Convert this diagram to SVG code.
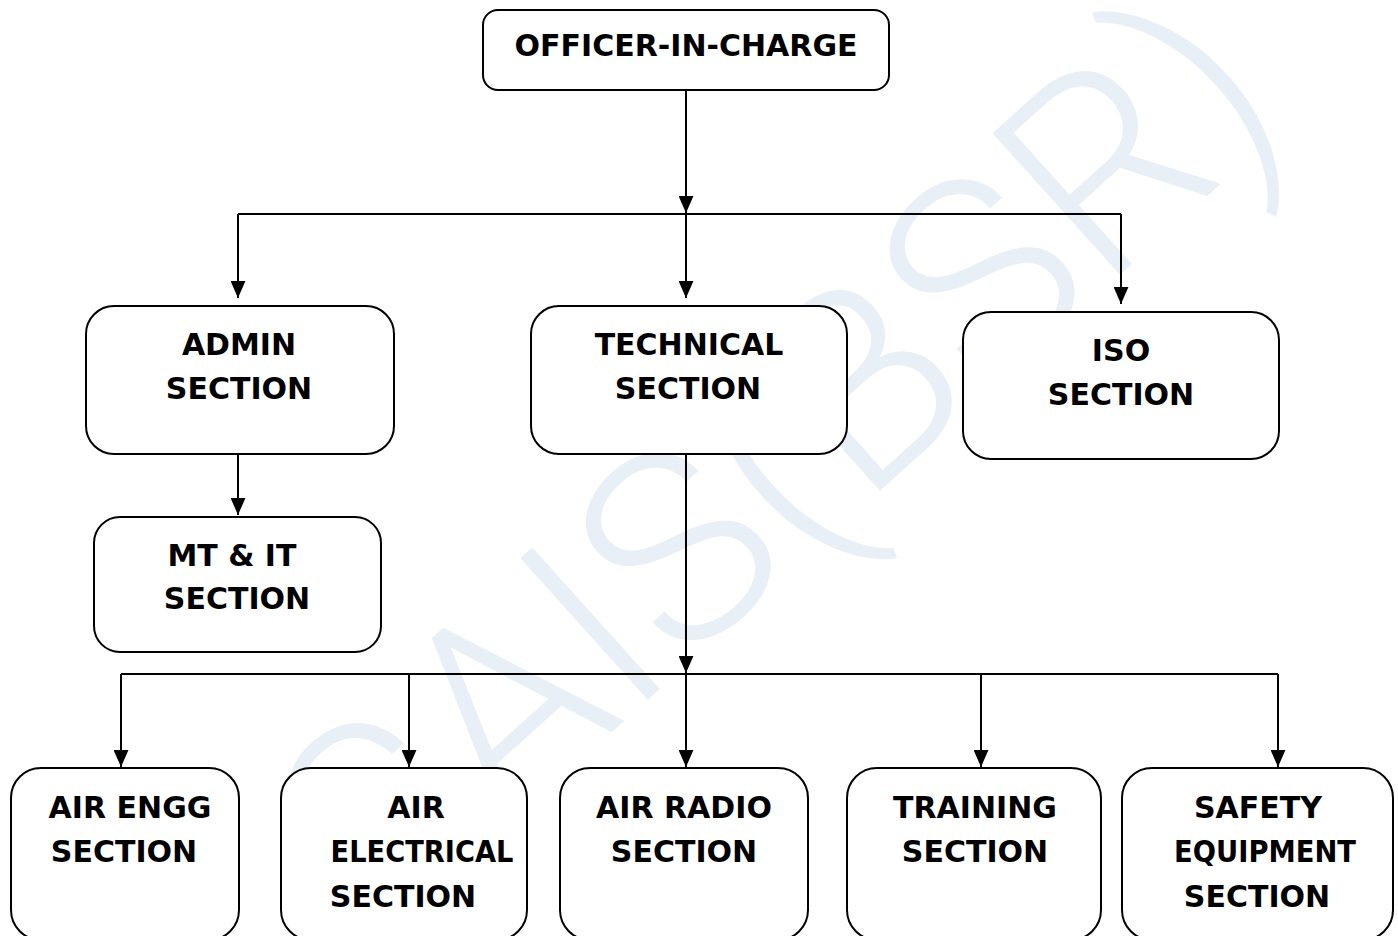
<svg xmlns="http://www.w3.org/2000/svg" width="1398" height="936" viewBox="0 0 1398 936">
  <style>
    .box { fill: #ffffff; stroke: #000000; stroke-width: 2; }
    .lbl { font-family: "DejaVu Sans", Verdana, sans-serif; font-weight: bold; font-size: 30px; fill: #000000; text-anchor: middle; }
    .wire { fill: none; stroke: #000000; stroke-width: 2; }
    .mark { font-family: Roboto, "Open Sans", sans-serif; font-weight: 300; font-size: 268px; fill: #e9eff7; text-anchor: middle; }
  </style>
  <defs>
    <marker id="arrow" viewBox="0 0 16 14" refX="16" refY="7" markerWidth="17" markerHeight="15" markerUnits="userSpaceOnUse" orient="auto">
      <path d="M0,0 L16,7 L0,14 Z" fill="#000000"/>
    </marker>
  </defs>

  <rect width="1398" height="936" fill="#ffffff"/>

  <!-- background watermark -->
  <g id="watermark" transform="translate(770,462) rotate(-42)">
    <text class="mark" x="0" y="95">CAIS(BSR)</text>
  </g>

  <!-- connectors -->
  <g id="connectors">
    <line class="wire" x1="686" y1="90" x2="686" y2="213" marker-end="url(#arrow)"/>
    <line class="wire" x1="238" y1="214" x2="1121" y2="214"/>
    <line class="wire" x1="238" y1="214" x2="238" y2="298" marker-end="url(#arrow)"/>
    <line class="wire" x1="686" y1="214" x2="686" y2="298" marker-end="url(#arrow)"/>
    <line class="wire" x1="1121" y1="214" x2="1121" y2="304" marker-end="url(#arrow)"/>
    <line class="wire" x1="238" y1="454" x2="238" y2="515" marker-end="url(#arrow)"/>
    <line class="wire" x1="686" y1="454" x2="686" y2="673" marker-end="url(#arrow)"/>
    <line class="wire" x1="121" y1="674" x2="1278" y2="674"/>
    <line class="wire" x1="121" y1="674" x2="121" y2="767" marker-end="url(#arrow)"/>
    <line class="wire" x1="409" y1="674" x2="409" y2="767" marker-end="url(#arrow)"/>
    <line class="wire" x1="686" y1="674" x2="686" y2="767" marker-end="url(#arrow)"/>
    <line class="wire" x1="981" y1="674" x2="981" y2="767" marker-end="url(#arrow)"/>
    <line class="wire" x1="1278" y1="674" x2="1278" y2="767" marker-end="url(#arrow)"/>
  </g>

  <g id="officer-in-charge">
    <rect class="box" x="483" y="10" width="406" height="80" rx="15"/>
    <text class="lbl" x="686" y="56">OFFICER-IN-CHARGE</text>
  </g>

  <g id="admin-section">
    <rect class="box" x="86" y="306" width="308" height="148" rx="28"/>
    <text class="lbl" x="239" y="355">ADMIN</text>
    <text class="lbl" x="239" y="399">SECTION</text>
  </g>

  <g id="technical-section">
    <rect class="box" x="531" y="306" width="316" height="148" rx="28"/>
    <text class="lbl" x="689" y="355">TECHNICAL</text>
    <text class="lbl" x="688" y="399">SECTION</text>
  </g>

  <g id="iso-section">
    <rect class="box" x="963" y="312" width="316" height="147" rx="28"/>
    <text class="lbl" x="1121" y="361">ISO</text>
    <text class="lbl" x="1121" y="405">SECTION</text>
  </g>

  <g id="mt-it-section">
    <rect class="box" x="94" y="517" width="287" height="135" rx="26"/>
    <text class="lbl" x="232" y="566">MT &amp; IT</text>
    <text class="lbl" x="237" y="609">SECTION</text>
  </g>

  <g id="air-engg-section">
    <rect class="box" x="11" y="768" width="228" height="172" rx="30"/>
    <text class="lbl" x="130" y="818">AIR ENGG</text>
    <text class="lbl" x="124" y="862">SECTION</text>
  </g>

  <g id="air-electrical-section">
    <rect class="box" x="281" y="768" width="246" height="172" rx="30"/>
    <text class="lbl" x="416" y="818">AIR</text>
    <text class="lbl" x="422" y="862" textLength="183" lengthAdjust="spacingAndGlyphs">ELECTRICAL</text>
    <text class="lbl" x="403" y="907">SECTION</text>
  </g>

  <g id="air-radio-section">
    <rect class="box" x="560" y="768" width="248" height="172" rx="30"/>
    <text class="lbl" x="684" y="818">AIR RADIO</text>
    <text class="lbl" x="684" y="862">SECTION</text>
  </g>

  <g id="training-section">
    <rect class="box" x="847" y="768" width="254" height="172" rx="30"/>
    <text class="lbl" x="975" y="818">TRAINING</text>
    <text class="lbl" x="975" y="862">SECTION</text>
  </g>

  <g id="safety-equipment-section">
    <rect class="box" x="1122" y="768" width="271" height="172" rx="30"/>
    <text class="lbl" x="1258" y="818">SAFETY</text>
    <text class="lbl" x="1265" y="862" textLength="182" lengthAdjust="spacingAndGlyphs">EQUIPMENT</text>
    <text class="lbl" x="1257" y="907">SECTION</text>
  </g>
</svg>
